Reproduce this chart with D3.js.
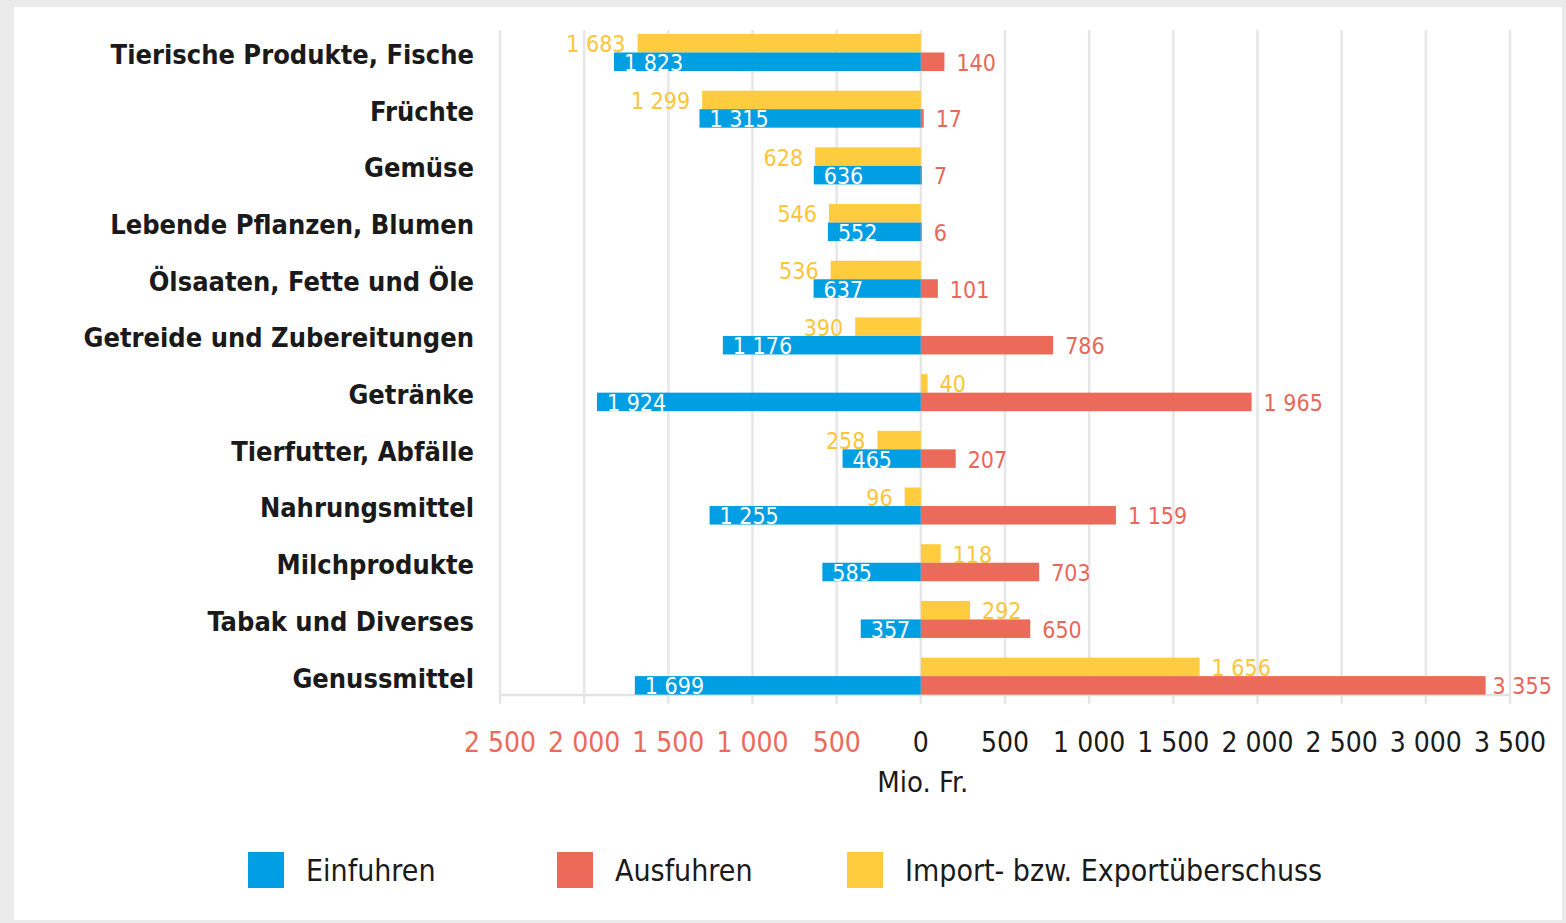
<!DOCTYPE html>
<html>
<head>
<meta charset="utf-8">
<script src="https://cdn.jsdelivr.net/npm/d3@7"></script>
<style>
  html, body { margin: 0; padding: 0; background: #ebebeb; }
  svg { display: block; }
  text { font-family: "DejaVu Sans Condensed", "DejaVu Sans", sans-serif; font-stretch: condensed; }
</style>
</head>
<body>
<div id="chart"></div>
<script>
// Handelsbilanz nach Warengruppen, Mio. Fr.
const categories = [
  "Tierische Produkte, Fische",
  "Früchte",
  "Gemüse",
  "Lebende Pflanzen, Blumen",
  "Ölsaaten, Fette und Öle",
  "Getreide und Zubereitungen",
  "Getränke",
  "Tierfutter, Abfälle",
  "Nahrungsmittel",
  "Milchprodukte",
  "Tabak und Diverses",
  "Genussmittel"
];
const einfuhren = [1823, 1315, 636, 552, 637, 1176, 1924, 465, 1255, 585, 357, 1699];
const ausfuhren = [140, 17, 7, 6, 101, 786, 1965, 207, 1159, 703, 650, 3355];
const ueberschuss = [-1683, -1299, -628, -546, -536, -390, 40, -258, -96, 118, 292, 1656];
const tickValues = [-2500, -2000, -1500, -1000, -500, 0, 500, 1000, 1500, 2000, 2500, 3000, 3500];
const seriesNames = ["Einfuhren", "Ausfuhren", "Import- bzw. Exportüberschuss"];

const colors = {
  blue: "#009fe3",
  red: "#ec6a5a",
  yellow: "#ffcc3f",
  yellowText: "#fcc53a",
  redText: "#e9675a"
};

const width = 1566;
const height = 923;

// number format with space as thousands separator
const fmt = d3.formatLocale({decimal: ",", thousands: " ", grouping: [3], currency: ["", ""]}).format(",d");

const svg = d3.select("#chart")
  .append("svg")
  .attr("width", width)
  .attr("height", height);

// white panel
svg.append("rect")
  .attr("x", 14).attr("y", 7)
  .attr("width", 1548).attr("height", 913)
  .attr("fill", "#fff");

const x = d3.scaleLinear()
  .domain([-2500, 3500])
  .range([500, 1510]);

const y = d3.scaleBand()
  .domain(categories)
  .range([14.3, 714.3])
  .paddingInner(0.347)
  .paddingOuter(0.347);

const half = y.bandwidth() / 2;

// gridlines
svg.append("g")
  .selectAll("line")
  .data(tickValues)
  .enter().append("line")
  .attr("x1", d => x(d)).attr("x2", d => x(d))
  .attr("y1", 30).attr("y2", 704)
  .attr("stroke", "#e6e6e6")
  .attr("stroke-width", 2.5);

// bottom axis line
svg.append("line")
  .attr("x1", x(-2500)).attr("x2", x(3500))
  .attr("y1", 695).attr("y2", 695)
  .attr("stroke", "#e3e3e3")
  .attr("stroke-width", 2.5);

// tick labels
svg.append("g")
  .selectAll("text")
  .data(tickValues)
  .enter().append("text")
  .attr("x", d => x(d))
  .attr("y", 742)
  .attr("dy", "0.35em")
  .attr("text-anchor", "middle")
  .attr("font-size", 28)
  .attr("fill", d => d < 0 ? colors.red : "#1a1a1a")
  .text(d => fmt(Math.abs(d)));

svg.append("text")
  .attr("x", x(0) + 2)
  .attr("y", 782)
  .attr("dy", "0.35em")
  .attr("text-anchor", "middle")
  .attr("font-size", 29)
  .attr("fill", "#1a1a1a")
  .text("Mio. Fr.");

// category labels
svg.append("g")
  .selectAll("text")
  .data(categories)
  .enter().append("text")
  .attr("x", 474)
  .attr("y", d => y(d) + half + 2)
  .attr("dy", "0.35em")
  .attr("text-anchor", "end")
  .attr("font-size", 27)
  .attr("font-weight", "bold")
  .attr("fill", "#1a1a1a")
  .text(d => d);

const rows = categories.map((c, i) => ({
  cat: c,
  imp: einfuhren[i],
  exp: ausfuhren[i],
  sur: ueberschuss[i]
}));

// surplus bars (upper half)
const g = svg.append("g");
g.selectAll("rect.sur")
  .data(rows)
  .enter().append("rect")
  .attr("class", "sur")
  .attr("x", d => Math.min(x(0), x(d.sur)))
  .attr("y", d => y(d.cat))
  .attr("width", d => Math.abs(x(d.sur) - x(0)))
  .attr("height", half)
  .attr("fill", colors.yellow);

// import bars (lower half, left)
g.selectAll("rect.imp")
  .data(rows)
  .enter().append("rect")
  .attr("class", "imp")
  .attr("x", d => x(-d.imp))
  .attr("y", d => y(d.cat) + half)
  .attr("width", d => x(0) - x(-d.imp))
  .attr("height", half)
  .attr("fill", colors.blue);

// export bars (lower half, right)
g.selectAll("rect.exp")
  .data(rows)
  .enter().append("rect")
  .attr("class", "exp")
  .attr("x", x(0))
  .attr("y", d => y(d.cat) + half)
  .attr("width", d => x(d.exp) - x(0))
  .attr("height", half)
  .attr("fill", colors.red);

// surplus labels
g.selectAll("text.sur")
  .data(rows)
  .enter().append("text")
  .attr("class", "sur")
  .attr("x", d => d.sur < 0 ? x(d.sur) - 12 : x(d.sur) + 12)
  .attr("y", d => y(d.cat) + half / 2 + 1)
  .attr("dy", "0.35em")
  .attr("text-anchor", d => d.sur < 0 ? "end" : "start")
  .attr("font-size", 23)
  .attr("fill", colors.yellowText)
  .text(d => fmt(Math.abs(d.sur)));

// import labels (white, inside bar)
g.selectAll("text.imp")
  .data(rows)
  .enter().append("text")
  .attr("class", "imp")
  .attr("x", d => x(-d.imp) + 10)
  .attr("y", d => y(d.cat) + half * 1.5 + 1)
  .attr("dy", "0.35em")
  .attr("font-size", 23)
  .attr("fill", "#fff")
  .text(d => fmt(d.imp));

// export labels
g.selectAll("text.exp")
  .data(rows)
  .enter().append("text")
  .attr("class", "exp")
  .attr("x", d => x(d.exp) + (d.exp > 3000 ? 7 : 12))
  .attr("y", d => y(d.cat) + half * 1.5 + 1)
  .attr("dy", "0.35em")
  .attr("font-size", 23)
  .attr("fill", colors.redText)
  .text(d => fmt(d.exp));

// legend
const legendX = [248, 557, 847];
const legendColors = [colors.blue, colors.red, colors.yellow];
const legend = svg.append("g")
  .selectAll("g")
  .data(seriesNames)
  .enter().append("g")
  .attr("transform", (d, i) => "translate(" + legendX[i] + ",852)");

legend.append("rect")
  .attr("width", 36).attr("height", 36)
  .attr("fill", (d, i) => legendColors[i]);

legend.append("text")
  .attr("x", 58)
  .attr("y", 18)
  .attr("dy", "0.35em")
  .attr("font-size", 30)
  .attr("fill", "#1a1a1a")
  .text(d => d);
</script>
</body>
</html>
